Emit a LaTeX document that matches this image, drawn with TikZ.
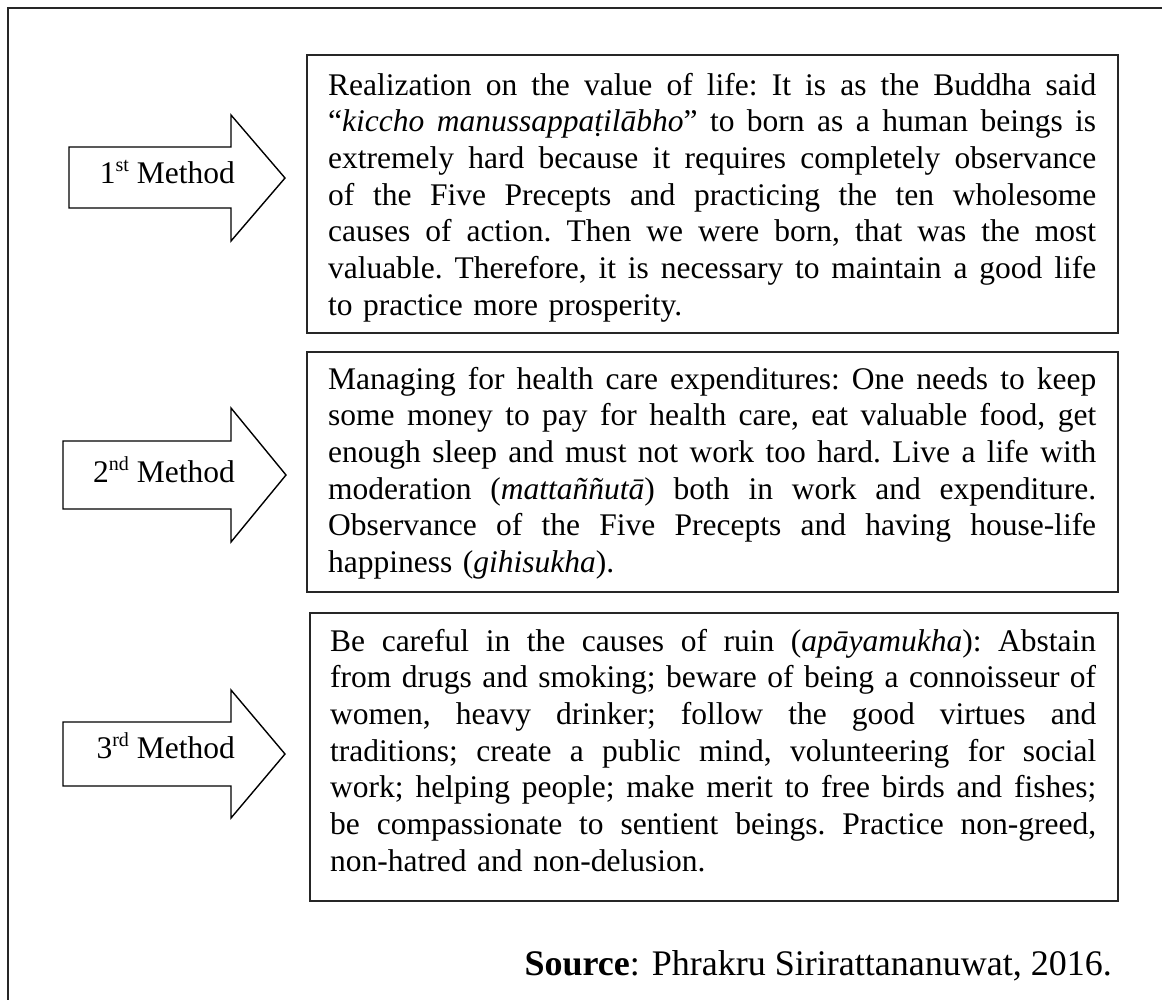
\documentclass[tikz,border=0pt]{standalone}
\usepackage{fontspec}
\setmainfont{Liberation Serif}
% one justified line of box text: words are split at spaces and the
% gaps between them share out the spare width evenly
\def\jsplit#1 #2\jend{#1\ifx\relax#2\relax\else\hskip\fontdimen2\font plus 1fil\relax\jsplit#2\jend\fi}
\newcommand\jline[2][768pt]{\hbox to #1{\jsplit#2 \jend}}
% the last, unspread line of a paragraph
\newcommand\lline[2][768pt]{\hbox to #1{#2\hfil}}
\newcommand\ordsup[1]{\raisebox{0.36em}{\fontsize{20}{20}\selectfont #1}}
\newcommand\bodyfont{\fontsize{31.5}{36.7}\selectfont\frenchspacing}
\begin{document}
\begin{tikzpicture}[x=1pt,y=-1pt,
  frame/.style={draw=black!85, line width=2pt},
  methodbox/.style={draw=black!85, line width=2pt, inner sep=0pt, outer sep=0pt},
  bodytext/.style={anchor=base west, inner sep=0pt, text width=768pt, align=left,
    font=\bodyfont},
  arrowshape/.style={draw=black, line width=1.4pt, fill=white, line join=miter},
  arrowlabel/.style={anchor=base east, inner sep=0pt, font=\fontsize{31.5}{36.7}\selectfont},
  ]
\useasboundingbox (0,0) rectangle (1162,999);
\clip (0,0) rectangle (1162,999);
\fill[white] (0,0) rectangle (1162,999);

% outer frame, running past the right and bottom edges
\draw[frame] (8,1020) -- (8,8) -- (1180,8);

% the three method boxes
\node[methodbox, minimum width=811pt, minimum height=278pt] (b1) at (712.5,194) {};
\node[methodbox, minimum width=811pt, minimum height=240pt] (b2) at (712.5,472) {};
\node[methodbox, minimum width=808pt, minimum height=288pt] (b3) at (714,757) {};

% block arrows
\draw[arrowshape] (69,147) -- (231,147) -- (231,115) -- (285,178) -- (231,241) -- (231,208) -- (69,208) -- cycle;
\draw[arrowshape] (63,441) -- (231,441) -- (231,408) -- (286,475) -- (231,542) -- (231,509) -- (63,509) -- cycle;
\draw[arrowshape] (63,722) -- (231,722) -- (231,690) -- (285,754) -- (231,818) -- (231,786) -- (63,786) -- cycle;

\node[arrowlabel] (m1) at (235,183) {1\ordsup{st} Method};
\node[arrowlabel] (m2) at (235,482) {2\ordsup{nd} Method};
\node[arrowlabel] (m3) at (235,758) {3\ordsup{rd} Method};

% box texts
\node[bodytext] (t1) at (328,95) {%
\jline{Realization on the value of life: It is as the Buddha said}
\jline{“\textit{kiccho} \textit{manussappaṭilābho}” to born as a human beings is}
\jline{extremely hard because it requires completely observance}
\jline{of the Five Precepts and practicing the ten wholesome}
\jline{causes of action. Then we were born, that was the most}
\jline{valuable. Therefore, it is necessary to maintain a good life}
\lline{to practice more prosperity.}};

\node[bodytext] (t2) at (328,389) {%
\jline{Managing for health care expenditures: One needs to keep}
\jline{some money to pay for health care, eat valuable food, get}
\jline{enough sleep and must not work too hard. Live a life with}
\jline{moderation (\textit{mattaññutā}) both in work and expenditure.}
\jline{Observance of the Five Precepts and having house-life}
\lline{happiness (\textit{gihisukha}).}};

\node[bodytext, text width=766pt] (t3) at (330,651) {%
\jline[766pt]{Be careful in the causes of ruin (\textit{apāyamukha}): Abstain}
\jline[766pt]{from drugs and smoking; beware of being a connoisseur of}
\jline[766pt]{women, heavy drinker; follow the good virtues and}
\jline[766pt]{traditions; create a public mind, volunteering for social}
\jline[766pt]{work; helping people; make merit to free birds and fishes;}
\jline[766pt]{be compassionate to sentient beings. Practice non-greed,}
\lline[766pt]{non-hatred and non-delusion.}};

% source line
\node[anchor=base east, inner sep=0pt, font=\fontsize{36}{40}\selectfont] (src) at (1112,975)
  {\textbf{Source}: Phrakru Sirirattananuwat, 2016.};
\end{tikzpicture}
\end{document}
